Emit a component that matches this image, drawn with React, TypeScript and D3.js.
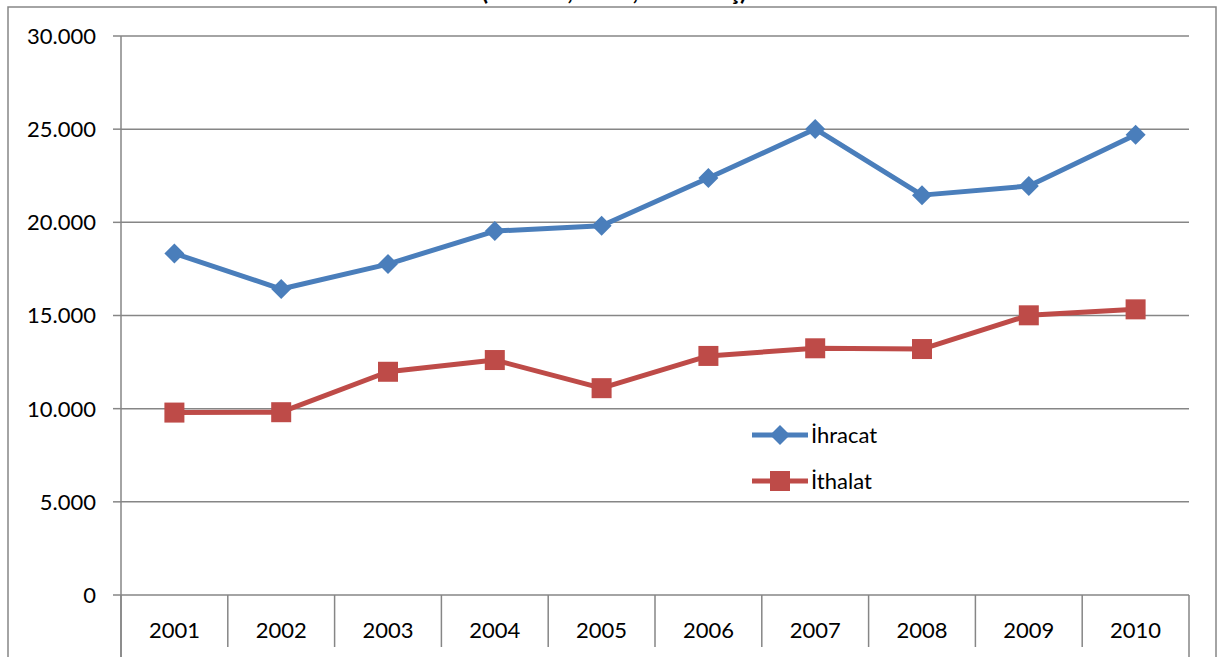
import React from "react";
import * as d3 from "d3";

const years = ["2001", "2002", "2003", "2004", "2005", "2006", "2007", "2008", "2009", "2010"];
const ihracat = [18330, 16420, 17760, 19530, 19820, 22380, 25010, 21460, 21950, 24700];
const ithalat = [9790, 9810, 11980, 12610, 11100, 12830, 13240, 13200, 15010, 15330];
const yTicks = [0, 5000, 10000, 15000, 20000, 25000, 30000];
const titleText = "(Bin Ton, Sabit, Net Satış)";
const seriesNames = ["İhracat", "İthalat"];

const W = 1219;
const H = 657;
const left = 121;
const right = 1189;
const top = 36;
const bottom = 595;
const grid = "#868686";
const blue = "#4A7EBB";
const red = "#BE4B48";
const font = "Lato, 'Open Sans', sans-serif";

const fmt = (v: number) => (v === 0 ? "0" : d3.format(",")(v).replace(/,/g, "."));

export default function App() {
  const x = d3.scaleBand<string>().domain(years).range([left, right]);
  const y = d3.scaleLinear().domain([0, 30000]).range([bottom, top]);
  const cx = (d: string) => (x(d) as number) + x.bandwidth() / 2;
  const line = d3
    .line<number>()
    .x((_, i) => cx(years[i]))
    .y((v) => y(v));
  const diamond = (px: number, py: number, r: number) =>
    `M${px},${py - r}L${px + r},${py}L${px},${py + r}L${px - r},${py}Z`;

  const boundaries = years.map((d) => x(d) as number).concat([right]);

  return (
    <svg
      width={W}
      height={H}
      style={{ position: "absolute", left: 0, top: 0, background: "#fff" }}
      fontFamily={font}
    >
      {/* title (mostly cut off, as in the reference) */}
      <text x={614} y={0} textAnchor="middle" fontSize={24} fontWeight="bold" fill="#000">
        {titleText}
      </text>
      {/* outer frame */}
      <path d={`M8,${H + 5}V7H1216V${H + 5}`} fill="none" stroke={grid} strokeWidth={1.5} />

      {/* gridlines */}
      {yTicks.map((t) => (
        <g key={t}>
          <line x1={left} x2={right} y1={y(t)} y2={y(t)} stroke={grid} strokeWidth={1.5} />
          <line x1={113} x2={left} y1={y(t)} y2={y(t)} stroke={grid} strokeWidth={1.5} />
          <text x={96} y={y(t)} dy="0.36em" textAnchor="end" fontSize={22} fill="#000">
            {fmt(t)}
          </text>
        </g>
      ))}
      {/* y axis */}
      <line x1={left} x2={left} y1={top} y2={H} stroke={grid} strokeWidth={1.5} />
      {/* category dividers */}
      {boundaries.map((b, i) => (
        <line
          key={i}
          x1={b}
          x2={b}
          y1={bottom}
          y2={i === 0 || i === boundaries.length - 1 ? H : 647}
          stroke={grid}
          strokeWidth={1.5}
        />
      ))}
      {years.map((d) => (
        <text key={d} x={cx(d)} y={630} dy="0.36em" textAnchor="middle" fontSize={22} fill="#000">
          {d}
        </text>
      ))}

      {/* series */}
      <path d={line(ihracat) || ""} fill="none" stroke={blue} strokeWidth={5} strokeLinejoin="round" />
      <path d={line(ithalat) || ""} fill="none" stroke={red} strokeWidth={5} strokeLinejoin="round" />
      {ihracat.map((v, i) => (
        <path key={"d" + i} d={diamond(cx(years[i]), y(v), 10)} fill={blue} />
      ))}
      {ithalat.map((v, i) => (
        <rect key={"s" + i} x={cx(years[i]) - 10} y={y(v) - 10} width={20} height={20} fill={red} />
      ))}

      {/* legend */}
      <g>
        <line x1={752} x2={808} y1={435} y2={435} stroke={blue} strokeWidth={5} />
        <path d={diamond(780, 435, 10)} fill={blue} />
        <text x={811} y={435} dy="0.36em" fontSize={22} fill="#000">
          {seriesNames[0]}
        </text>
        <line x1={752} x2={808} y1={481} y2={481} stroke={red} strokeWidth={5} />
        <rect x={770} y={471} width={20} height={20} fill={red} />
        <text x={811} y={481} dy="0.36em" fontSize={22} fill="#000">
          {seriesNames[1]}
        </text>
      </g>
    </svg>
  );
}
